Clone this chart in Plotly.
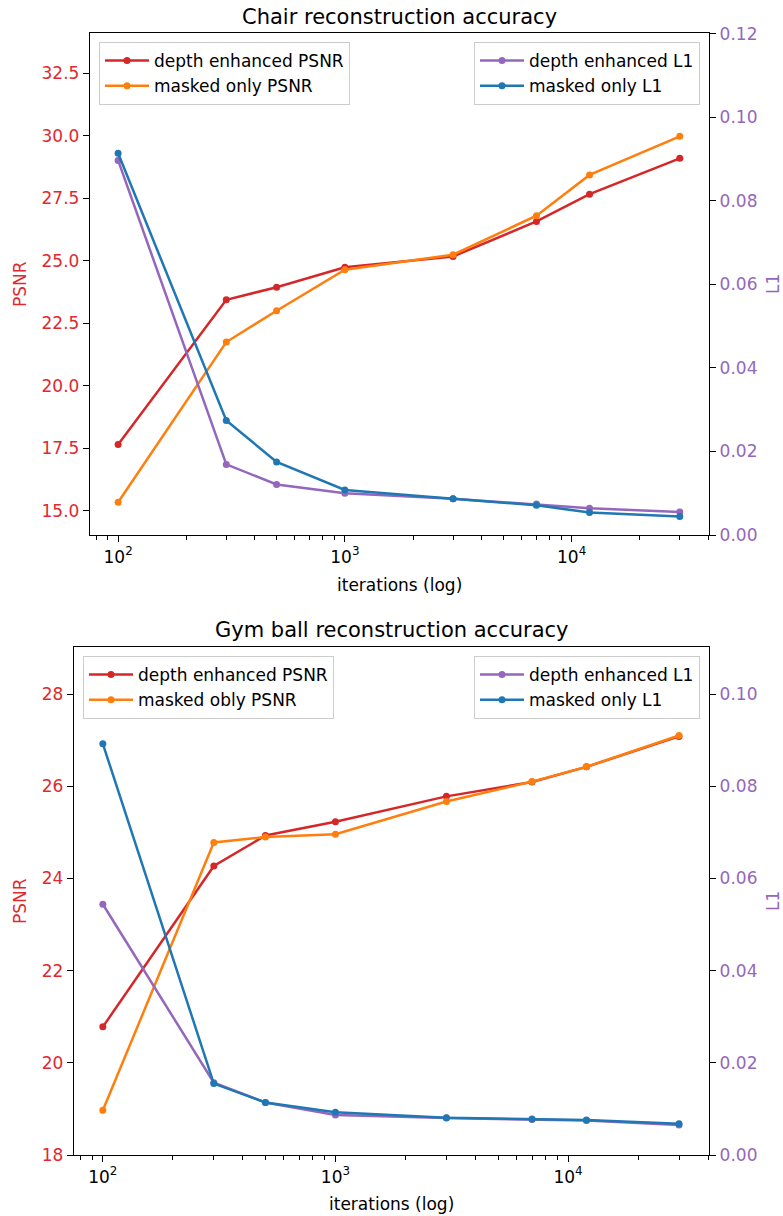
import plotly.graph_objects as go

# ---------------- data ----------------
iterations = [100, 300, 500, 1000, 3000, 7000, 12000, 30000]

chair_depth_psnr = [17.66, 23.44, 23.94, 24.74, 25.17, 26.57, 27.66, 29.09]
chair_masked_psnr = [15.35, 21.75, 23.00, 24.64, 25.24, 26.80, 28.43, 29.97]
chair_depth_l1 = [0.0897, 0.0169, 0.0121, 0.0100, 0.0087, 0.0074, 0.0064, 0.0055]
chair_masked_l1 = [0.0914, 0.0274, 0.0175, 0.0108, 0.0087, 0.0071, 0.0054, 0.0044]

ball_depth_psnr = [20.78, 24.27, 24.93, 25.23, 25.78, 26.09, 26.42, 27.08]
ball_masked_psnr = [18.97, 24.78, 24.90, 24.96, 25.67, 26.10, 26.42, 27.10]
ball_depth_l1 = [0.0544, 0.0157, 0.0114, 0.0087, 0.0080, 0.0077, 0.0075, 0.0065]
ball_masked_l1 = [0.0892, 0.0155, 0.0114, 0.0093, 0.0081, 0.0078, 0.0076, 0.0068]

x_tick_vals = [100, 1000, 10000]
x_tick_text = ["10<sup>2</sup>", "10<sup>3</sup>", "10<sup>4</sup>"]
x_minor_vals = [80, 90, 200, 300, 400, 500, 600, 700, 800, 900,
                2000, 3000, 4000, 5000, 6000, 7000, 8000, 9000,
                20000, 30000, 40000]

chair_psnr_ticks = [15.0, 17.5, 20.0, 22.5, 25.0, 27.5, 30.0, 32.5]
chair_psnr_text = ["15.0", "17.5", "20.0", "22.5", "25.0", "27.5", "30.0", "32.5"]
chair_l1_ticks = [0.00, 0.02, 0.04, 0.06, 0.08, 0.10, 0.12]
chair_l1_text = ["0.00", "0.02", "0.04", "0.06", "0.08", "0.10", "0.12"]
ball_psnr_ticks = [18, 20, 22, 24, 26, 28]
ball_psnr_text = ["18", "20", "22", "24", "26", "28"]
ball_l1_ticks = [0.00, 0.02, 0.04, 0.06, 0.08, 0.10]
ball_l1_text = ["0.00", "0.02", "0.04", "0.06", "0.08", "0.10"]

titles = ["Chair reconstruction accuracy", "Gym ball reconstruction accuracy"]
psnr_names_chair = ["depth enhanced PSNR", "masked only PSNR"]
psnr_names_ball = ["depth enhanced PSNR", "masked obly PSNR"]
l1_names = ["depth enhanced L1", "masked only L1"]

# ---------------- style ----------------
RED = "#d62728"
ORANGE = "#ff7f0e"
PURPLE = "#9467bd"
BLUE = "#1f77b4"
LABEL_RED = "#e0282f"
FONT = "DejaVu Sans"
FS = 17
W, H = 783, 1216
LW = 2.5
MS = 7

fig = go.Figure()


def add(x, y, name, color, xa, ya, legend):
    fig.add_trace(go.Scatter(
        x=x, y=y, name=name, mode="lines+markers",
        line=dict(color=color, width=LW),
        marker=dict(color=color, size=MS),
        xaxis=xa, yaxis=ya, legend=legend))


# chair
add(iterations, chair_depth_psnr, psnr_names_chair[0], RED, "x", "y", "legend")
add(iterations, chair_masked_psnr, psnr_names_chair[1], ORANGE, "x", "y", "legend")
add(iterations, chair_depth_l1, l1_names[0], PURPLE, "x", "y2", "legend2")
add(iterations, chair_masked_l1, l1_names[1], BLUE, "x", "y2", "legend2")
# gym ball
add(iterations, ball_depth_psnr, psnr_names_ball[0], RED, "x2", "y3", "legend3")
add(iterations, ball_masked_psnr, psnr_names_ball[1], ORANGE, "x2", "y3", "legend3")
add(iterations, ball_depth_l1, l1_names[0], PURPLE, "x2", "y4", "legend4")
add(iterations, ball_masked_l1, l1_names[1], BLUE, "x2", "y4", "legend4")


def px_x(p):
    return p / W


def px_y(p):
    return 1 - p / H


# plot areas in pixels
top = dict(l=90, r=709, t=33, b=535)
bot = dict(l=74, r=709, t=647, b=1155)

axis_common = dict(showline=True, linecolor="black", linewidth=1.4,
                   ticks="outside", ticklen=6, tickwidth=1.4, tickcolor="black",
                   showgrid=False, zeroline=False, automargin=False,
                   tickfont=dict(family=FONT, size=FS, color="black"))


def xaxis(dom, anchor):
    d = dict(axis_common)
    d.update(type="log", domain=dom, anchor=anchor, range=[1.876, 4.606],
             tickmode="array", tickvals=x_tick_vals, ticktext=x_tick_text,
             mirror=True,
             minor=dict(tickmode="array", tickvals=x_minor_vals, ticks="outside",
                        ticklen=3.5, tickwidth=1, tickcolor="black", showgrid=False))
    return d


def yleft(dom, anchor, rng, vals, text):
    d = dict(axis_common)
    d.update(domain=dom, anchor=anchor, range=rng, tickmode="array",
             tickvals=vals, ticktext=text, mirror=False,
             tickfont=dict(family=FONT, size=FS, color=LABEL_RED))
    return d


def yright(overlay, anchor, rng, vals, text):
    d = dict(axis_common)
    d.update(overlaying=overlay, anchor=anchor, side="right", range=rng,
             tickmode="array", tickvals=vals, ticktext=text,
             tickfont=dict(family=FONT, size=FS, color=PURPLE))
    return d


top_xdom = [px_x(top["l"]), px_x(top["r"])]
top_ydom = [px_y(top["b"]), px_y(top["t"])]
bot_xdom = [px_x(bot["l"]), px_x(bot["r"])]
bot_ydom = [px_y(bot["b"]), px_y(bot["t"])]

legend_common = dict(bgcolor="rgba(255,255,255,0.8)", bordercolor="#cccccc",
                     borderwidth=1, font=dict(family=FONT, size=FS, color="black"),
                     xref="paper", yref="paper", yanchor="top",
                     tracegroupgap=0, itemwidth=44)


def leg(x, y, xanchor):
    d = dict(legend_common)
    d.update(x=x, y=y, xanchor=xanchor)
    return d


annotations = []


def ann(text, x, y, size=FS, angle=0, color="black"):
    annotations.append(dict(text=text, x=px_x(x), y=px_y(y), xref="paper",
                            yref="paper", showarrow=False, textangle=angle,
                            xanchor="center", yanchor="middle",
                            font=dict(family=FONT, size=size, color=color)))


ann(titles[0], 399, 17, size=21)
ann(titles[1], 391, 630, size=21)
ann("iterations (log)", 399, 585)
ann("iterations (log)", 391, 1204)
ann("PSNR", 20, 284, angle=-90, color=LABEL_RED)
ann("PSNR", 20, 901, angle=-90, color=LABEL_RED)
ann("L1", 773, 284, angle=-90, color=PURPLE)
ann("L1", 773, 901, angle=-90, color=PURPLE)

fig.update_layout(
    width=W, height=H, autosize=False,
    margin=dict(l=0, r=0, t=0, b=0, pad=0),
    paper_bgcolor="white", plot_bgcolor="white",
    font=dict(family=FONT, size=FS, color="black"),
    xaxis=xaxis(top_xdom, "y"),
    yaxis=yleft(top_ydom, "x", [14.04, 34.1], chair_psnr_ticks, chair_psnr_text),
    yaxis2=yright("y", "x", [0, 0.1202], chair_l1_ticks, chair_l1_text),
    xaxis2=xaxis(bot_xdom, "y3"),
    yaxis3=yleft(bot_ydom, "x2", [18.0, 29.02], ball_psnr_ticks, ball_psnr_text),
    yaxis4=yright("y3", "x2", [0, 0.1102], ball_l1_ticks, ball_l1_text),
    legend=leg(px_x(99), px_y(42), "left"),
    legend2=leg(px_x(700), px_y(42), "right"),
    legend3=leg(px_x(83), px_y(656), "left"),
    legend4=leg(px_x(700), px_y(656), "right"),
    annotations=annotations,
    showlegend=True,
)

fig.write_html(
    "out.html",
    config={"displayModeBar": False},
    post_script="document.body.style.margin='0';document.body.style.overflow='hidden';",
)
